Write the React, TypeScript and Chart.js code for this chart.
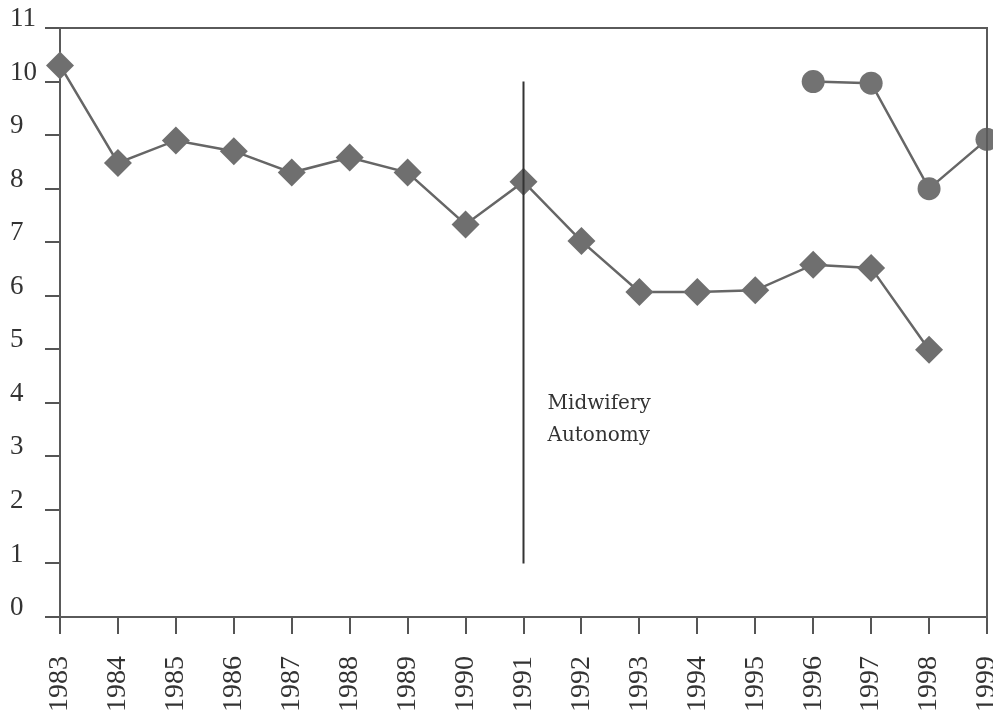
import React, { useEffect, useRef } from "react";
import { Chart, registerables } from "chart.js";

Chart.register(...registerables);

const years = ["1983","1984","1985","1986","1987","1988","1989","1990","1991","1992","1993","1994","1995","1996","1997","1998","1999"];
const diamondSeries = [10.3, 8.48, 8.9, 8.7, 8.3, 8.58, 8.3, 7.33, 8.13, 7.02, 6.07, 6.07, 6.1, 6.58, 6.52, 4.99, null];
const circleSeries = [null, null, null, null, null, null, null, null, null, null, null, null, null, 10.0, 9.97, 8.0, 8.92];
const yTicks = [0, 1, 2, 3, 4, 5, 6, 7, 8, 9, 10, 11];
const eventYear = "1991";
const eventFrom = 1;
const eventTo = 10;
const eventLabel = ["Midwifery", "Autonomy"];
const eventLabelAt = 3.88;

const frameAndEvent = {
  id: "frameAndEvent",
  afterDatasetsDraw(chart: any) {
    const { ctx, chartArea, scales } = chart;
    ctx.save();
    ctx.strokeStyle = "#5a5a5a";
    ctx.lineWidth = 2;
    ctx.beginPath();
    ctx.moveTo(chartArea.left, chartArea.top);
    ctx.lineTo(chartArea.right, chartArea.top);
    ctx.lineTo(chartArea.right, chartArea.bottom);
    ctx.stroke();
    const x = scales.x.getPixelForValue(years.indexOf(eventYear));
    ctx.strokeStyle = "#333";
    ctx.lineWidth = 2;
    ctx.beginPath();
    ctx.moveTo(x, scales.y.getPixelForValue(eventFrom));
    ctx.lineTo(x, scales.y.getPixelForValue(eventTo));
    ctx.stroke();
    ctx.fillStyle = "#333";
    ctx.font = "20px 'DejaVu Serif'";
    ctx.textBaseline = "alphabetic";
    ctx.textAlign = "left";
    const y0 = scales.y.getPixelForValue(eventLabelAt);
    eventLabel.forEach((t, i) => ctx.fillText(t, x + 24, y0 + i * 32));
    ctx.restore();
  },
};

export default function App() {
  const ref = useRef<HTMLCanvasElement>(null);
  useEffect(() => {
    const chart = new Chart(ref.current!, {
      type: "line",
      data: {
        labels: years,
        datasets: [
          {
            data: diamondSeries,
            borderColor: "#666",
            borderWidth: 2.5,
            backgroundColor: "#6f6f6f",
            pointBackgroundColor: "#6f6f6f",
            pointBorderColor: "#6f6f6f",
            pointStyle: "rectRot",
            pointRadius: 14,
            pointBorderWidth: 0,
            spanGaps: false,
            clip: false,
          },
          {
            data: circleSeries,
            borderColor: "#666",
            borderWidth: 2.5,
            backgroundColor: "#727272",
            pointBackgroundColor: "#727272",
            pointBorderColor: "#727272",
            pointStyle: "circle",
            pointRadius: 11.5,
            pointBorderWidth: 0,
            spanGaps: false,
            clip: false,
          },
        ],
      },
      options: {
        animation: false,
        responsive: true,
        maintainAspectRatio: false,
        layout: { autoPadding: false, padding: { top: 28, right: 6, left: 10, bottom: 0 } },
        plugins: { legend: { display: false }, tooltip: { enabled: false } },
        scales: {
          x: {
            type: "category",
            offset: false,
            grid: { drawOnChartArea: false, drawTicks: true, tickLength: 17, color: "#555", lineWidth: 2 },
            border: { display: true, color: "#5a5a5a", width: 2 },
            ticks: {
              color: "#333",
              font: { family: "'Liberation Serif'", size: 28 },
              minRotation: 90,
              maxRotation: 90,
              padding: 22,
              autoSkip: false,
            },
            afterFit(scale: any) {
              scale.height = 100;
              scale.paddingLeft = 0;
              scale.paddingRight = 0;
            },
          },
          y: {
            min: 0,
            max: 11,
            afterBuildTicks(scale: any) { scale.ticks = yTicks.map((v) => ({ value: v })); },
            grid: { drawOnChartArea: false, drawTicks: true, tickLength: 15, color: "#555", lineWidth: 2 },
            border: { display: true, color: "#5a5a5a", width: 2 },
            ticks: {
              color: "#333",
              font: { family: "'Liberation Serif'", size: 27 },
              padding: 5,
              crossAlign: "far",
              labelOffset: -9,
            },
            afterFit(scale: any) { scale.width = 50; },
          },
        },
      },
      plugins: [frameAndEvent],
    });
    return () => chart.destroy();
  }, []);
  return (
    <div style={{ position: "fixed", left: 0, top: 0, width: 993, height: 717, background: "#fff" }}>
      <canvas ref={ref} />
    </div>
  );
}
